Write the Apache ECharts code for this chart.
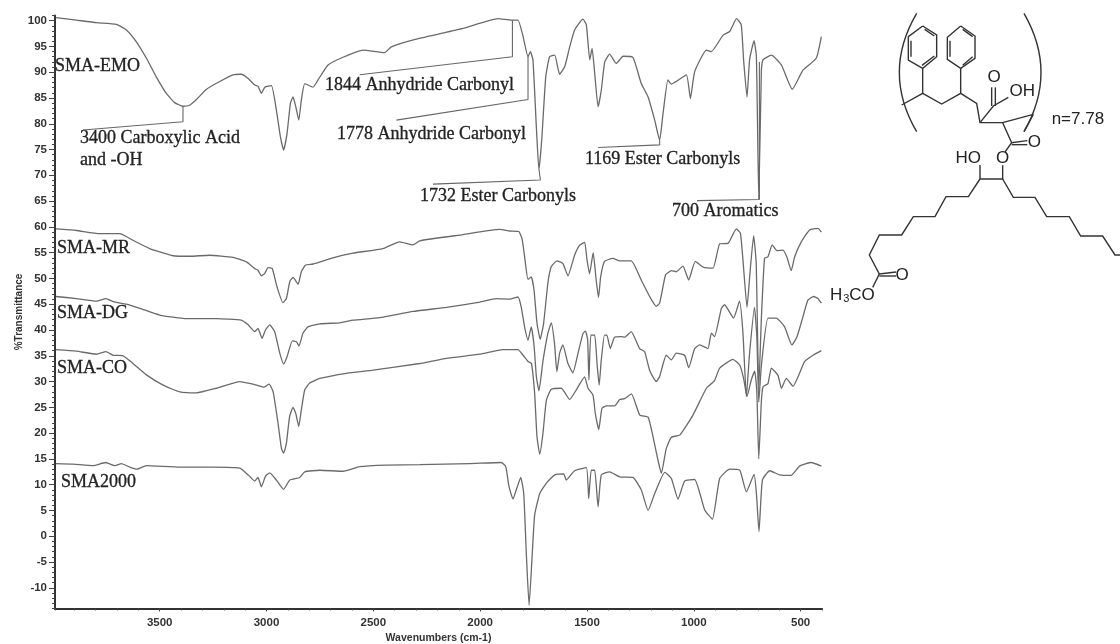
<!DOCTYPE html>
<html><head><meta charset="utf-8">
<style>html,body{margin:0;padding:0;background:#fff}#c{width:1120px;height:644px}#c canvas{filter:blur(0.45px)}</style>
<script src="https://cdn.jsdelivr.net/npm/echarts@6/dist/echarts.min.js"></script>
</head><body><div id="c"></div>
<script>
const smaEmo=[[3986,100.6],[3890,100.1],[3796,99.6],[3703,99.3],[3656,98.2],[3609,95.9],[3562,92.7],[3516,89.1],[3469,85.9],[3430,84.1],[3391,83.4],[3360,83.6],[3328,84.7],[3281,86.7],[3219,88.2],[3157,89.5],[3118,89.6],[3086,88.8],[3055,87.5],[3040,87.3],[3024,85.9],[3008,87.1],[2977,87.4],[2954,82.7],[2935,77.5],[2920,74.9],[2904,78.1],[2888,84.0],[2876,85.2],[2863,83.3],[2849,80.7],[2837,84.6],[2821,87.8],[2782,87.1],[2759,88.5],[2712,91.4],[2642,92.9],[2548,94.3],[2447,93.8],[2416,94.9],[2299,96.4],[2080,98.5],[1916,100.4],[1854,100.1],[1823,100.1],[1799,96.9],[1776,93.0],[1765,94],[1753,92.4],[1737,79.4],[1725,71.0],[1712,76.8],[1693,89.1],[1675,93.0],[1651,93.3],[1628,89.6],[1604,91.1],[1581,94.9],[1558,98.2],[1519,100.3],[1503,99.2],[1487,92.4],[1476,94.6],[1464,89.8],[1448,83.3],[1433,86.5],[1417,92.0],[1394,93.5],[1363,91.7],[1331,93.1],[1285,92.9],[1246,87.8],[1214,85.2],[1183,80.7],[1160,76.8],[1144,82],[1121,88.5],[1105,87.7],[1035,89.5],[1016,84.9],[996,90.1],[941,94.3],[918,94],[863,97.2],[832,97.9],[800,100.4],[778,99.2],[767,92.4],[751,85.2],[739,92.4],[718,96.1],[707,93],[696,65.4],[684,90],[676,92.4],[637,93.3],[590,91.4],[539,86.7],[489,90.4],[427,92.7],[403,96.9]];
const smaMr=[[3986,59.6],[3890,59.3],[3781,58.7],[3687,58.7],[3625,57.4],[3547,55.8],[3437,54.4],[3359,54.3],[3266,54.5],[3157,54.1],[3094,53.2],[3055,51.9],[3040,51.6],[3024,50.5],[3008,51.0],[2993,52.1],[2973,51.9],[2951,48.4],[2923,45.3],[2907,46.1],[2891,49.4],[2876,50.2],[2852,48.9],[2837,51.3],[2817,52.6],[2782,52.8],[2689,54.0],[2595,54.9],[2455,55.8],[2377,57.1],[2314,56.5],[2283,57.3],[2080,58.5],[1909,59.5],[1862,59.2],[1819,59.1],[1803,57.5],[1792,54.2],[1776,49.8],[1761,50.3],[1748,47.8],[1734,41.3],[1719,38.2],[1703,41.3],[1683,49.1],[1667,52.3],[1641,53.4],[1613,52.9],[1589,50.5],[1558,54.5],[1535,56.4],[1511,57.0],[1500,53.6],[1488,50.9],[1471,55.0],[1457,49.7],[1446,46.3],[1436,50.3],[1418,53.3],[1379,53.9],[1347,53.4],[1293,53.4],[1246,49.7],[1207,46.5],[1176,44.6],[1160,45.2],[1132,50.7],[1105,51.5],[1082,51.3],[1051,52.4],[1024,49.7],[993,53.3],[957,52.2],[910,52.0],[879,56.7],[840,56.8],[801,59.6],[782,58.8],[770,53.6],[751,44.4],[736,51.6],[720,58.3],[708,53],[696,28.5],[684,42],[669,53.9],[653,54.2],[633,56.5],[611,55.4],[583,55.5],[564,54.1],[544,51.5],[528,54.2],[497,57.1],[458,59.4],[419,59.7],[403,59]];
const smaDg=[[3986,46.5],[3890,46.1],[3796,45.6],[3752,46.1],[3718,45.5],[3656,45.0],[3593,44.2],[3500,42.9],[3375,42.2],[3235,42.2],[3118,41.9],[3086,41.0],[3055,39.7],[3040,40.3],[3021,38.4],[3005,40.0],[2985,41],[2962,39.7],[2938,35.5],[2920,33.4],[2904,34.8],[2879,37.9],[2860,37.7],[2848,36.9],[2829,39.4],[2806,40.6],[2751,41.2],[2657,41.4],[2595,41.9],[2470,42.4],[2314,43.6],[2158,44.4],[2002,45.4],[1924,46.1],[1862,46.0],[1823,46.4],[1808,44.5],[1792,40.6],[1776,38.0],[1761,40.6],[1748,37.1],[1737,31],[1725,28.2],[1706,34],[1683,39.4],[1667,41.4],[1652,37.4],[1641,31.9],[1628,35.5],[1613,37.1],[1589,33.5],[1566,31.7],[1542,35.5],[1519,39.3],[1507,39.8],[1497,38.1],[1491,30.3],[1482,39.0],[1464,39.0],[1453,33.5],[1443,29.3],[1433,34.2],[1418,39.0],[1407,39],[1391,36.4],[1371,38.6],[1340,38.7],[1324,38.6],[1293,39.7],[1254,36.4],[1230,35.8],[1207,32.2],[1176,30.0],[1160,31.0],[1129,35.1],[1105,34.2],[1082,35.5],[1043,35.1],[1024,32.7],[996,36.4],[973,37.1],[934,36.4],[918,39.4],[903,38.7],[871,44.2],[856,44.9],[814,42.3],[786,45.6],[770,39.4],[754,27.1],[739,35.5],[716,44.4],[705,38.7],[696,26],[684,33],[653,42.3],[614,42.3],[575,40.6],[541,37.1],[517,38.7],[489,42.6],[466,45.8],[439,46.5],[419,46.1],[403,45.2]];
const smaCo=[[3986,36.2],[3890,35.9],[3796,35.3],[3752,35.8],[3718,35.1],[3671,35.0],[3625,33.5],[3562,31.3],[3484,29.3],[3406,28.0],[3328,27.8],[3235,28.7],[3125,30.0],[3063,29.5],[3032,29.1],[3013,28.9],[2988,29.5],[2969,28.0],[2946,21.9],[2930,17.0],[2920,16.1],[2907,18.0],[2892,23.2],[2876,25.0],[2863,23.8],[2849,21.3],[2837,24.5],[2821,28.4],[2798,29.7],[2751,30.6],[2626,31.6],[2501,32.2],[2283,33.5],[2158,34.5],[2002,35.3],[1893,36.2],[1823,36.2],[1799,35.1],[1776,33.9],[1760,33.5],[1745,27.7],[1734,19.3],[1721,15.9],[1706,20],[1690,26.4],[1667,28.5],[1620,28.7],[1581,26.5],[1550,28.4],[1511,30.9],[1495,28.7],[1472,27.4],[1461,23.8],[1445,20.7],[1430,24.8],[1409,25.3],[1370,25.3],[1347,26.5],[1324,26.7],[1292,27.6],[1253,23.5],[1214,23.1],[1191,19.3],[1168,14.8],[1152,12.2],[1129,17.0],[1105,19.2],[1066,19.6],[1004,23.5],[941,28.7],[903,30.2],[879,32.6],[817,34.3],[785,33.2],[767,30.6],[751,27.1],[731,30.3],[715,32],[705,28],[696,15],[684,26],[676,29.0],[653,29.6],[637,32.6],[606,31.2],[590,28.7],[567,30.6],[536,29.1],[481,33.9],[442,35.1],[403,36.0]];
const sma2000=[[3986,14.1],[3905,14.0],[3812,13.7],[3753,14.3],[3710,13.7],[3679,14.1],[3640,13.4],[3606,13.0],[3562,13.7],[3406,13.4],[3250,13.4],[3125,13.2],[3086,11.9],[3055,10.7],[3040,11.4],[3024,9.6],[3005,11.6],[2985,12.3],[2954,10.9],[2920,9.1],[2891,10.9],[2845,11.4],[2821,12.5],[2751,12.8],[2642,12.6],[2564,13.5],[2439,13.8],[2283,13.9],[2049,14.1],[1901,14.3],[1880,13.5],[1865,9.6],[1846,7.2],[1831,9.0],[1810,11.4],[1796,8.3],[1784,-3.3],[1771,-13.4],[1756,-3.3],[1745,4.1],[1721,8.3],[1690,10.3],[1651,11.9],[1609,12.1],[1597,10.9],[1558,12.7],[1503,13.3],[1492,7.3],[1480,12.8],[1464,12.8],[1448,5.7],[1433,11.9],[1394,12.5],[1347,11.5],[1285,11.4],[1246,9.0],[1214,5.0],[1183,8.3],[1136,12.4],[1105,11.2],[1074,7.2],[1043,10.7],[996,11.0],[949,5.1],[913,3.3],[879,11.2],[832,13.0],[785,12.8],[754,8.6],[718,12],[707,8.3],[695,0.9],[679,10.9],[645,12.7],[598,11.9],[544,11.8],[505,13.6],[450,14.3],[403,13.6]];
const spectra=[smaEmo,smaMr,smaDg,smaCo,sma2000];

const leader3400=[[3859,78.8],[3391,80.4],[3391,83.4]];
const leader1844=[[2564,89.5],[1849,93.0],[1849,100.1]];
const leader1778=[[2392,80.7],[1776,84.7],[1776,93]];
const leader1732=[[2221,68.3],[1718,69.1],[1724,71]];
const leader1169=[[1448,75.4],[1160,75.9],[1160,76.8]];
const leader700=[[985,65.1],[693,65.3],[693,92]];
const leaders=[leader3400,leader1844,leader1778,leader1732,leader1169,leader700];

const xLabels=[3500,3000,2500,2000,1500,1000,500];
const yLabels=[100,95,90,85,80,75,70,65,60,55,50,45,40,35,30,25,20,15,10,5,0,-5,-10];
const seriesLabels=['SMA-EMO','SMA-MR','SMA-DG','SMA-CO','SMA2000'];
const bandLabels=['3400 Carboxylic Acid','and -OH','1844 Anhydride Carbonyl','1778 Anhydride Carbonyl','1732 Ester Carbonyls','1169 Ester Carbonyls','700 Aromatics'];

// placement of the text overlays, page pixels
const labelSpots=[[55,66.5],[57,248],[57,313],[57,368],[61,482]];
const bandSpots=[[80,138],[80,160],[325,85],[337,134],[420,196],[585,159],[672,211]];

// molecule drawing, in 3x units relative to (820,0)
const bonds=[
 [[308,78],[350,105],[350,170],[308,205],[265,180],[265,110],[308,78]],
 [[273,122],[273,170]],[[314,88],[343,108]],[[306,196],[343,168]],
 [[422,78],[465,108],[465,175],[422,205],[382,178],[382,112],[422,78]],
 [[390,122],[390,170]],[[428,88],[458,110]],[[428,196],[458,170]],
 [[308,205],[308,280]],[[422,205],[422,280]],
 [[245,315],[308,280],[365,312],[422,280],[470,310],[480,368],[548,368],[640,343]],
 [[640,343],[612,395]],
 [[480,368],[520,318],[565,292]],[[515,318],[515,262]],[[526,318],[526,262]],
 [[548,368],[575,428],[622,422]],[[575,434],[622,434]],[[575,428],[555,456]],
 [[548,496],[548,537],[480,537],[480,495]],
 [[480,537],[445,590],[378,590],[345,650],[280,650],[245,705],[178,705],[148,765],[178,822],[228,816]],
 [[178,828],[228,828]],[[178,822],[158,862]],
 [[548,537],[580,592],[645,592],[680,650],[748,650],[782,708],[848,708],[885,765],[900,765]]
];
const parens=[[[290,40],[186,217],[290,395]],[[612,40],[714,217],[612,395]]];
const atoms=[['O',522,232],['OH',607,275],['O',643,428],['O',548,476],['HO',445,475],['O',246,826]];

const lineCol='#6a6a6a', serif='"Liberation Serif","Times New Roman",serif', sans='"Liberation Sans",Arial,sans-serif';
const mx=x=>820+x/3, my=y=>y/3;
const g=[];
const textStyle=(t)=>({text:t,font:'18px '+serif,fill:'#222',stroke:'#222',lineWidth:0.3,textVerticalAlign:'middle'});
seriesLabels.forEach((t,i)=>g.push({type:'text',x:labelSpots[i][0],y:labelSpots[i][1],style:textStyle(t)}));
bandLabels.forEach((t,i)=>g.push({type:'text',x:bandSpots[i][0],y:bandSpots[i][1],style:textStyle(t)}));
bonds.forEach(b=>g.push({type:'polyline',shape:{points:b.map(p=>[mx(p[0]),my(p[1])])},style:{stroke:'#333',lineWidth:1.4,fill:null}}));
parens.forEach(p=>g.push({type:'bezierCurve',shape:{x1:mx(p[0][0]),y1:my(p[0][1]),cpx1:mx(p[1][0]),cpy1:my(p[1][1]),x2:mx(p[2][0]),y2:my(p[2][1])},style:{stroke:'#333',lineWidth:1.4,fill:null}}));
atoms.forEach(a=>g.push({type:'text',x:mx(a[1]),y:my(a[2]),style:{text:a[0],font:'17px '+sans,fill:'#222',textAlign:'center',textVerticalAlign:'middle'}}));
g.push({type:'text',x:mx(695),y:my(358),style:{text:'n=7.78',font:'17px '+sans,fill:'#222',textVerticalAlign:'middle'}});
g.push({type:'text',x:mx(30),y:my(885),style:{text:'H',font:'17px '+sans,fill:'#222',textVerticalAlign:'middle'}});
g.push({type:'text',x:mx(70),y:my(897),style:{text:'3',font:'11px '+sans,fill:'#222',textVerticalAlign:'middle'}});
g.push({type:'text',x:mx(88),y:my(885),style:{text:'CO',font:'17px '+sans,fill:'#222',textVerticalAlign:'middle'}});

const xMin=400,xMax=3990,yMin=-14,yMax=101;
const axisStyle={lineStyle:{color:'#333',width:2}};
const chart=echarts.init(document.getElementById('c'),null,{renderer:'canvas'});
chart.setOption({
 animation:false,backgroundColor:'#fff',
 grid:{left:55,right:298,top:15.5,bottom:35.6,containLabel:false,outerBoundsMode:'none'},
 xAxis:[
  {type:'value',inverse:true,min:xMin,max:xMax,interval:100,position:'bottom',splitLine:{show:false},
   axisLine:{onZero:false,...axisStyle},axisTick:{length:2,lineStyle:{color:'#444',width:1}},axisLabel:{show:false},
   name:'Wavenumbers (cm-1)',nameLocation:'middle',nameGap:24,nameTextStyle:{fontFamily:sans,fontSize:10.5,fontWeight:'bold',color:'#333'}},
  {type:'value',inverse:true,min:xMin,max:xMax,position:'bottom',splitLine:{show:false},
   axisLine:{show:false,onZero:false},axisTick:{show:true,length:3,customValues:xLabels,lineStyle:{color:'#444',width:1}},
   axisLabel:{customValues:xLabels,margin:8,fontFamily:sans,fontSize:11.5,fontWeight:'bold',color:'#333',hideOverlap:false,formatter:v=>String(v)}}
 ],
 yAxis:[
  {type:'value',min:yMin,max:yMax,interval:1,position:'left',splitLine:{show:false},
   axisLine:{onZero:false,...axisStyle},axisTick:{length:3,lineStyle:{color:'#444',width:1}},axisLabel:{show:false},
   name:'%Transmittance',nameLocation:'middle',nameGap:31,nameRotate:90,nameTextStyle:{fontFamily:sans,fontSize:10,fontWeight:'bold',color:'#333'}},
  {type:'value',min:yMin,max:yMax,position:'left',splitLine:{show:false},
   axisLine:{show:false,onZero:false},axisTick:{show:true,length:6,customValues:yLabels,lineStyle:{color:'#444',width:1}},
   axisLabel:{customValues:yLabels,margin:8,fontFamily:sans,fontSize:11.5,fontWeight:'bold',color:'#333',hideOverlap:false,formatter:v=>String(v)}}
 ],
 series:[
  ...spectra.map((d,i)=>({name:seriesLabels[i],type:'line',data:d,showSymbol:false,smooth:0.15,clip:true,lineStyle:{color:lineCol,width:1.3}})),
  ...leaders.map(d=>({type:'line',data:d,showSymbol:false,lineStyle:{color:'#666',width:1.1},silent:true}))
 ],
 graphic:g
});
</script></body></html>
